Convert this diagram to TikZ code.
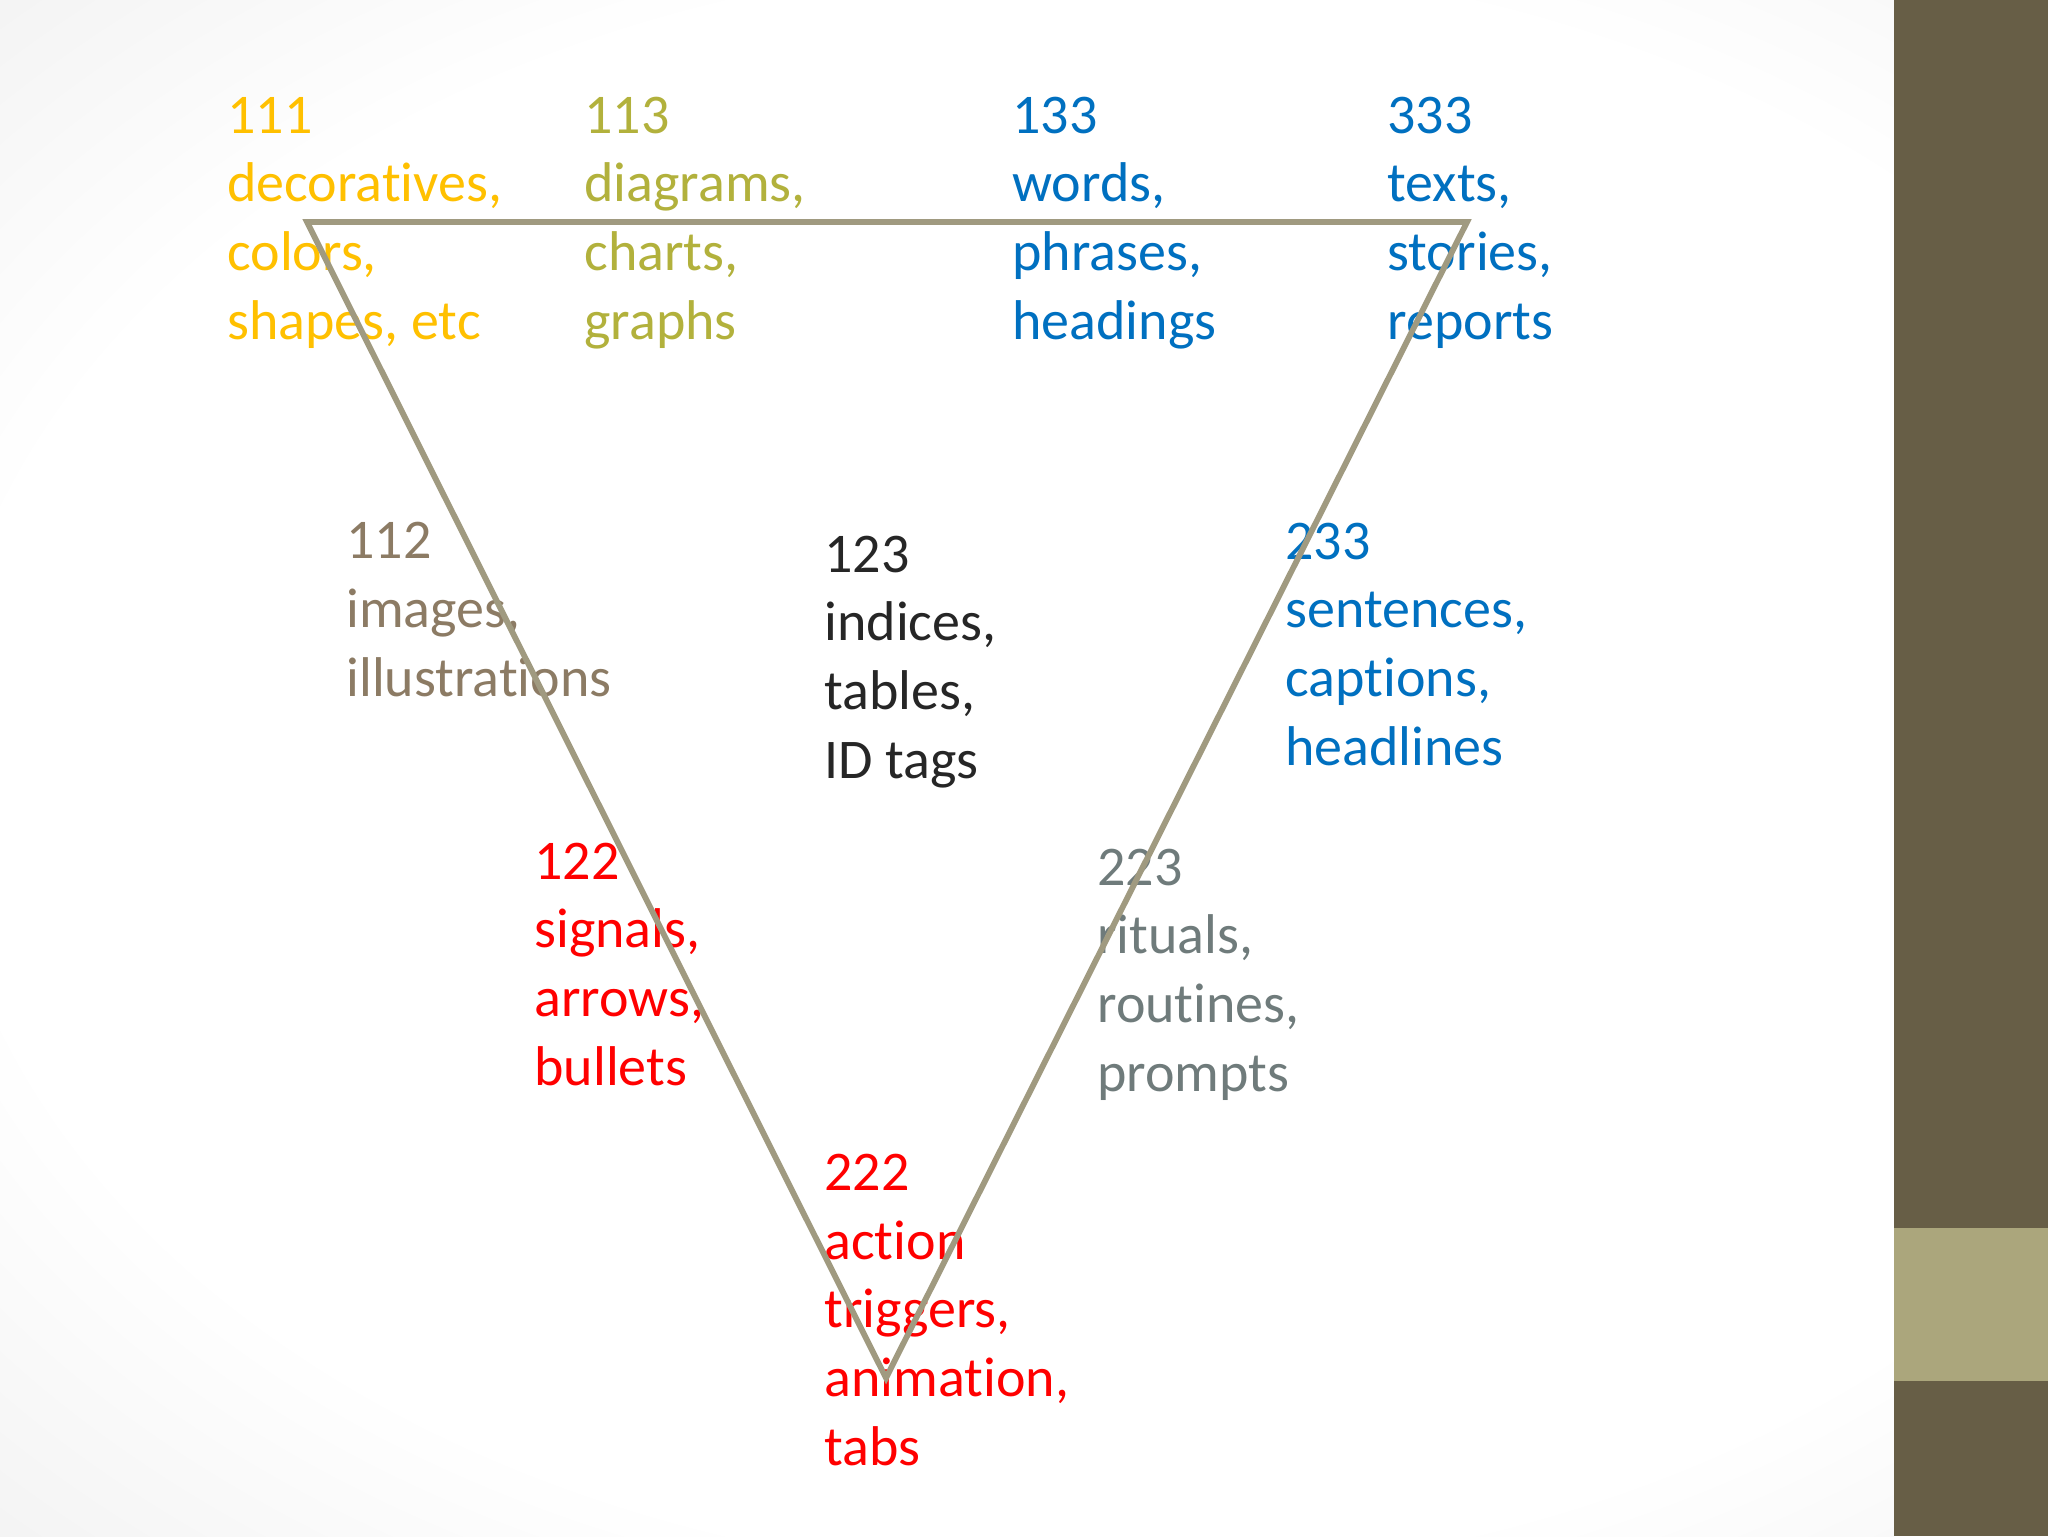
\documentclass[tikz,border=0pt]{standalone}
\usepackage{fontspec}
\setmainfont{Carlito}[Ligatures=NoCommon]
\definecolor{cgold}{RGB}{255,192,0}
\definecolor{colive}{RGB}{178,177,60}
\definecolor{cblue}{RGB}{0,112,192}
\definecolor{cbrown}{RGB}{140,123,100}
\definecolor{cdark}{RGB}{38,38,38}
\definecolor{cred}{RGB}{255,0,0}
\definecolor{cgrey}{RGB}{111,123,123}
\definecolor{ctri}{RGB}{160,154,128}
\definecolor{bardark}{RGB}{103,94,70}
\definecolor{bartan}{RGB}{171,166,124}
\pgfdeclareradialshading{vign}{\pgfpoint{0bp}{0bp}}{color(0bp)=(white); color(26bp)=(white); color(45bp)=(black!9); color(72bp)=(black!20)}
\begin{document}
\begin{tikzpicture}[x=0.5pt,y=-0.5pt,
  lbl/.style={anchor=base west, inner sep=0pt, align=left, font=\fontsize{28}{34.3}\selectfont},
  tri/.style={draw=ctri, line width=2.9pt, line join=miter}]
\useasboundingbox (0,0) rectangle (2048,1536);
\begin{scope}
\clip (0,0) rectangle (1894,1536);
\shade[shading=vign] (0,0) rectangle (2200,1536);
\end{scope}
\fill[bardark] (1894,0) rectangle (2048,1536);
\fill[bartan] (1894,1228) rectangle (2048,1381);
% base anchor = last line baseline
\node[lbl, text=cgold] (n111) at (227,339) {111\\decoratives,\\colors,\\shapes, etc};
\node[lbl, text=colive] (n113) at (584,339) {113\\diagrams,\\charts,\\graphs};
\node[lbl, text=cblue] (n133) at (1012,339) {133\\words,\\phrases,\\headings};
\node[lbl, text=cblue] (n333) at (1387,339) {333\\texts,\\stories,\\reports};
\node[lbl, text=cbrown] (n112) at (346,696) {112\\images,\\illustrations};
\node[lbl, text=cdark] (n123) at (824,778) {123\\indices,\\tables,\\ID tags};
\node[lbl, text=cblue] (n233) at (1285,765) {233\\sentences,\\captions,\\headlines};
\node[lbl, text=cred] (n122) at (534,1085) {122\\signals,\\arrows,\\bullets};
\node[lbl, text=cgrey] (n223) at (1097,1091) {223\\rituals,\\routines,\\prompts};
\node[lbl, text=cred] (n222) at (824,1465) {222\\action\\triggers,\\animation,\\tabs};
\coordinate (tl) at (307,222);
\coordinate (tr) at (1467,222);
\coordinate (bt) at (886,1378);
\draw[tri] (tl) -- (tr) -- (bt) -- cycle;
\end{tikzpicture}
\end{document}
